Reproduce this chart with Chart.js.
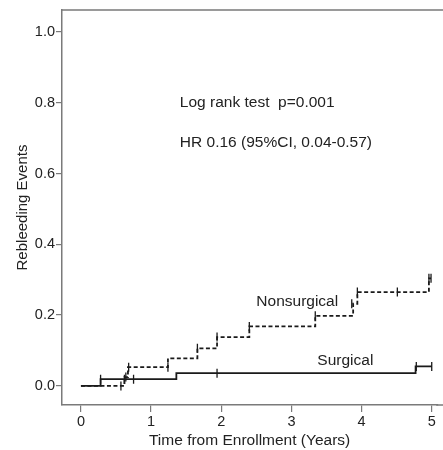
<!DOCTYPE html>
<html>
<head>
<meta charset="utf-8">
<script src="https://cdn.jsdelivr.net/npm/chart.js@4/dist/chart.umd.min.js"></script>
<style>
  html, body { margin: 0; padding: 0; background: #fff; }
  #wrap { width: 443px; height: 450px; }
</style>
</head>
<body>
<div id="wrap"><canvas id="km"></canvas></div>
<script>
// Kaplan-Meier style cumulative rebleeding curves
const surgicalTimes = [0, 0.28, 1.36, 4.77, 5.0];
const surgicalEvents = [0, 0.019, 0.036, 0.055, 0.055];
const surgicalCensorTimes = [0.28, 0.62, 0.75, 1.94, 4.78, 5.0];
const surgicalCensorEvents = [0.019, 0.019, 0.019, 0.036, 0.055, 0.055];

const nonsurgicalTimes = [0, 0.62, 0.67, 1.24, 1.66, 1.94, 2.40, 3.34, 3.88, 3.94, 4.96, 4.99];
const nonsurgicalEvents = [0, 0.025, 0.053, 0.078, 0.106, 0.138, 0.168, 0.198, 0.232, 0.265, 0.304, 0.304];
const nonsurgicalCensorTimes = [0.57, 0.64, 0.68, 1.24, 1.66, 1.94, 2.40, 3.34, 3.86, 3.94, 4.51, 4.96, 4.99];
const nonsurgicalCensorEvents = [0, 0.025, 0.053, 0.053, 0.106, 0.138, 0.168, 0.198, 0.232, 0.265, 0.265, 0.304, 0.304];

const xTicks = [0, 1, 2, 3, 4, 5];
const yTicks = [0, 0.2, 0.4, 0.6, 0.8, 1.0];

const annotations = [
  { text: 'Log rank test  p=0.001', x: 1.41, y: 0.80 },
  { text: 'HR 0.16 (95%CI, 0.04-0.57)', x: 1.41, y: 0.688 },
  { text: 'Nonsurgical', x: 2.50, y: 0.237 },
  { text: 'Surgical', x: 3.37, y: 0.071 }
];

function toPoints(xs, ys) {
  return xs.map((x, i) => ({ x: x, y: ys[i] }));
}

const ink = '#1a1a1a';
const frame = '#7a7a7a';
const font = "'Liberation Sans', Arial, sans-serif";

// frame lines that run to the right edge, plus the text notes
const notesPlugin = {
  id: 'notes',
  afterDraw(chart) {
    const ctx = chart.ctx;
    const area = chart.chartArea;
    const xs = chart.scales.x, ys = chart.scales.y;
    ctx.save();
    ctx.strokeStyle = frame;
    ctx.lineWidth = 1.5;
    ctx.beginPath();
    ctx.moveTo(area.left, area.top);
    ctx.lineTo(chart.width, area.top);
    ctx.moveTo(area.right - 1, area.bottom);
    ctx.lineTo(chart.width, area.bottom);
    ctx.stroke();
    ctx.fillStyle = '#222';
    ctx.font = '15.5px ' + font;
    ctx.textAlign = 'left';
    ctx.textBaseline = 'middle';
    annotations.forEach(a => {
      ctx.fillText(a.text, xs.getPixelForValue(a.x), ys.getPixelForValue(a.y));
    });
    ctx.restore();
  }
};

new Chart(document.getElementById('km'), {
  type: 'scatter',
  data: {
    datasets: [{
      label: 'Surgical',
      data: toPoints(surgicalTimes, surgicalEvents),
      showLine: true,
      stepped: true,
      borderColor: ink,
      borderWidth: 1.8,
      pointRadius: 0
    }, {
      label: 'Nonsurgical',
      data: toPoints(nonsurgicalTimes, nonsurgicalEvents),
      showLine: true,
      stepped: true,
      borderColor: ink,
      borderWidth: 1.8,
      borderDash: [4, 2.5],
      pointRadius: 0
    }, {
      label: 'Surgical censored',
      data: toPoints(surgicalCensorTimes, surgicalCensorEvents),
      showLine: false,
      pointStyle: 'line',
      rotation: 90,
      pointRadius: 4.5,
      borderColor: ink,
      borderWidth: 1.3
    }, {
      label: 'Nonsurgical censored',
      data: toPoints(nonsurgicalCensorTimes, nonsurgicalCensorEvents),
      showLine: false,
      pointStyle: 'line',
      rotation: 90,
      pointRadius: 4.5,
      borderColor: ink,
      borderWidth: 1.3
    }]
  },
  options: {
    responsive: true,
    maintainAspectRatio: false,
    animation: false,
    layout: { padding: { top: 10, right: 0, left: 0, bottom: 0 } },
    plugins: {
      legend: { display: false },
      tooltip: { enabled: false }
    },
    scales: {
      x: {
        type: 'linear',
        min: -0.27,
        max: 5.078,
        afterBuildTicks: s => { s.ticks = xTicks.map(v => ({ value: v })); },
        afterFit: s => { s.height = 45; s.paddingLeft = 0; s.paddingRight = 0; },
        grid: { drawOnChartArea: false, drawTicks: true, tickLength: 7, color: frame, lineWidth: 1.2 },
        border: { display: true, color: frame, width: 1.5 },
        ticks: {
          padding: 1,
          color: '#222',
          font: { family: font, size: 14.5 },
          maxRotation: 0,
          callback: v => String(v)
        },
        title: {
          display: true,
          text: 'Time from Enrollment (Years)',
          color: '#222',
          font: { family: font, size: 15.5 },
          padding: { top: 0, bottom: 0 }
        }
      },
      y: {
        type: 'linear',
        min: -0.054,
        max: 1.062,
        afterBuildTicks: s => { s.ticks = yTicks.map(v => ({ value: v })); },
        afterFit: s => { s.width = 62; },
        grid: { drawOnChartArea: false, drawTicks: true, tickLength: 6, color: frame, lineWidth: 1.2 },
        border: { display: true, color: frame, width: 1.5 },
        ticks: {
          padding: 1,
          color: '#222',
          font: { family: font, size: 14.5 },
          callback: v => Number(v).toFixed(1)
        },
        title: {
          display: true,
          text: 'Rebleeding Events',
          color: '#222',
          font: { family: font, size: 15 },
          padding: { top: 14, bottom: 0 }
        }
      }
    }
  },
  plugins: [notesPlugin]
});
</script>
</body>
</html>
